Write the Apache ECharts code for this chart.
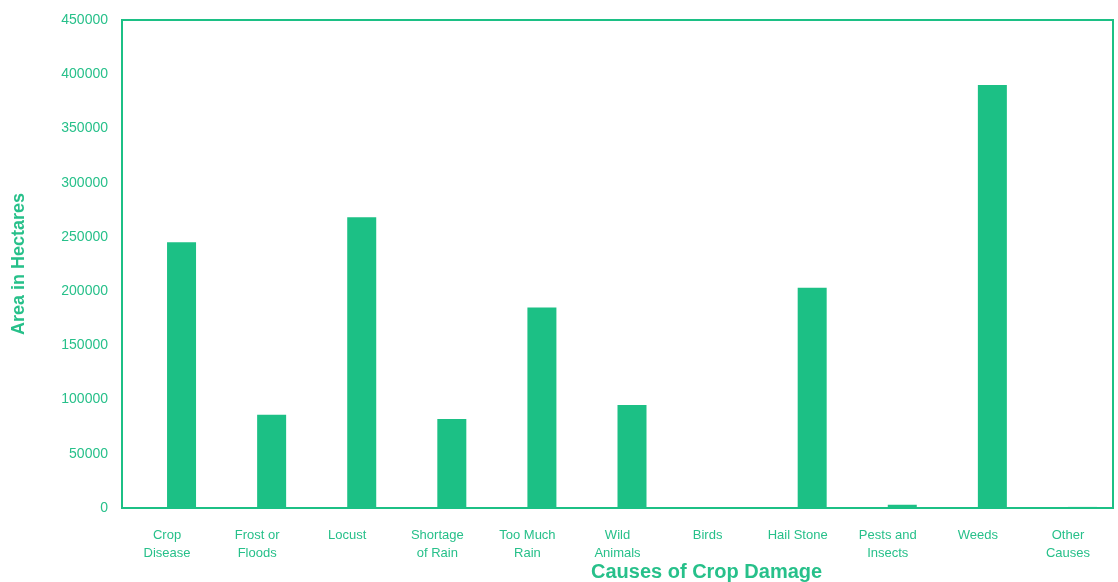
<!DOCTYPE html>
<html>
<head>
<meta charset="utf-8">
<script src="https://cdn.jsdelivr.net/npm/echarts@6/dist/echarts.min.js"></script>
<style>
  html, body { margin: 0; padding: 0; background: #fff; }
  #CropChartDom { width: 1118px; height: 582px; }
</style>
</head>
<body>
<div id="CropChartDom"></div>
<script>
const causes = ['Crop\nDisease', 'Frost or\nFloods', 'Locust', 'Shortage\nof Rain', 'Too Much\nRain',
  'Wild\nAnimals', 'Birds', 'Hail Stone', 'Pests and\nInsects', 'Weeds', 'Other\nCauses'];
const areaHectares = [245000, 86000, 268000, 82000, 185000, 95000, 0, 203000, 3000, 390000, 1000];
const yTicks = { min: 0, max: 450000, interval: 50000 };

const green = '#1cc085';
const textGreen = '#27c08a';

const option = {
  animation: false,
  backgroundColor: '#fff',
  title: {
    text: 'Causes of Crop Damage',
    left: 586,
    top: 557,
    textStyle: {
      fontFamily: 'Liberation Sans',
      fontSize: 20,
      fontWeight: 'bold',
      color: textGreen
    }
  },
  grid: {
    left: 122,
    right: 5,
    top: 20,
    bottom: 74,
    show: true,
    borderColor: green,
    borderWidth: 2
  },
  xAxis: {
    type: 'category',
    data: causes,
    axisLine: { lineStyle: { color: green, width: 2 } },
    axisTick: { show: false },
    axisLabel: {
      interval: 0,
      margin: 18,
      color: textGreen,
      fontFamily: 'Liberation Sans',
      fontSize: 13,
      lineHeight: 18
    }
  },
  yAxis: {
    type: 'value',
    min: yTicks.min,
    max: yTicks.max,
    interval: yTicks.interval,
    name: 'Area in Hectares',
    nameLocation: 'middle',
    nameGap: 94,
    nameTextStyle: {
      fontFamily: 'Liberation Sans',
      fontSize: 18,
      fontWeight: 'bold',
      color: textGreen
    },
    axisLine: { show: true, lineStyle: { color: green, width: 2 } },
    axisTick: { show: false },
    splitLine: { show: false },
    axisLabel: {
      margin: 14,
      color: textGreen,
      fontFamily: 'Liberation Sans',
      fontSize: 14,
      formatter: (v) => String(v)
    }
  },
  series: [
    {
      name: 'spacer',
      type: 'bar',
      barWidth: 29,
      barGap: '0%',
      data: causes.map(() => null)
    },
    {
      name: 'Area',
      type: 'bar',
      barWidth: 29,
      itemStyle: { color: green },
      data: areaHectares
    }
  ]
};

const chartDom = document.getElementById('CropChartDom');
const myChart = echarts.init(chartDom);
myChart.setOption(option);
</script>
</body>
</html>
